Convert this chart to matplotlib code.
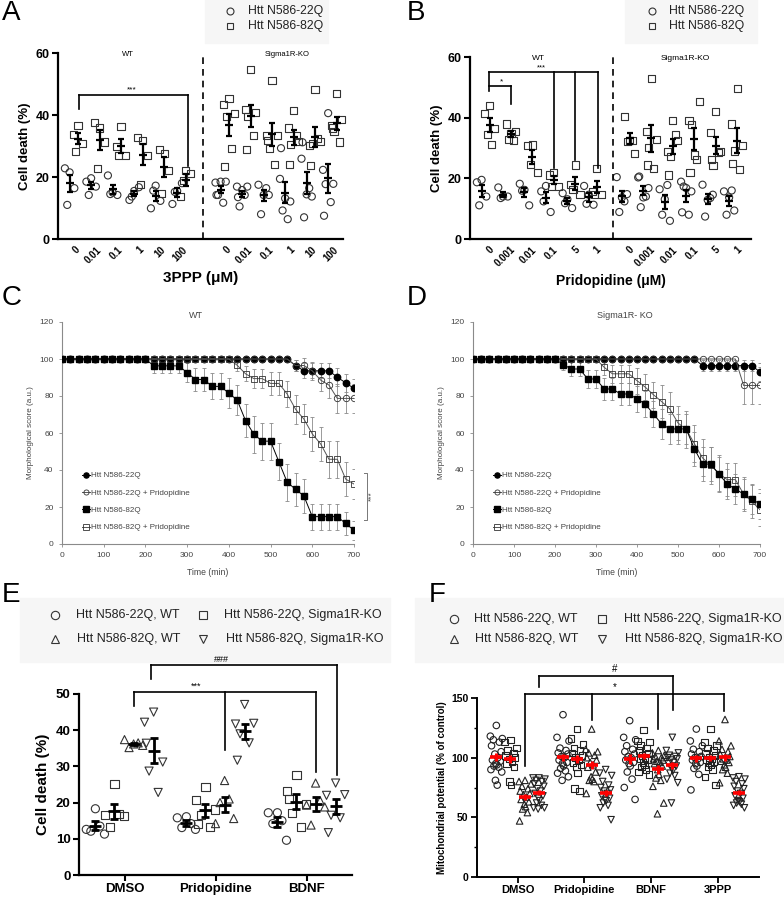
import numpy as np
import matplotlib
matplotlib.use('Agg')
import matplotlib.pyplot as plt
from matplotlib.lines import Line2D
from matplotlib.patches import Rectangle
from matplotlib.ticker import MultipleLocator

plt.rcParams['font.family'] = ['Liberation Sans', 'DejaVu Sans']

# ---------------- data ----------------
# Panel A: 3PPP dose, cell death (%)
A_doses = ['0', '0.01', '0.1', '1', '10', '100']
A_wt_22 = [[21.5, 22.8, 16.4, 11.0], [19.6, 18.5, 16.9, 14.2], [15.0, 20.5, 14.2, 14.5],
           [15.5, 12.6, 16.7, 13.7], [17.2, 9.9, 12.3, 15.6], [15.5, 11.3, 18.0, 15.2]]
A_wt_82 = [[36.6, 33.8, 30.9, 28.2], [35.8, 37.6, 31.3, 22.8], [36.3, 29.7, 26.8, 26.8],
           [31.8, 32.7, 26.9, 17.5], [27.7, 28.8, 22.1, 14.8], [22.1, 13.7, 21.2, 19.0]]
A_ko_22 = [[18.5, 18.2, 18.5, 14.2, 11.7, 14.2], [15.8, 16.9, 16.9, 10.5, 14.2, 13.5],
           [14.2, 17.5, 14.2, 8.0, 16.4], [13.1, 19.4, 12.1, 9.2, 6.4, 29.3],
           [14.4, 25.9, 13.7, 7.0, 16.4, 31.2], [40.6, 22.3, 17.8, 17.7, 11.9, 7.5]]
A_ko_82 = [[45.3, 43.5, 40.6, 39.5, 29.1, 23.4], [54.6, 41.7, 40.8, 39.5, 33.3, 28.8],
           [51.1, 33.3, 33.3, 29.1, 24.1, 31.8], [41.4, 35.8, 31.5, 30.4, 33.3, 24.1],
           [48.2, 30.2, 31.5, 30.9, 32.5, 23.8], [46.8, 36.6, 38.5, 34.7, 31.3, 35.8]]

# Panel B: pridopidine dose, cell death (%)
B_doses = ['0', '0.001', '0.01', '0.1', '5', '1']
B_wt_22 = [[19.5, 18.7, 14.0, 11.1], [14.0, 17.0, 14.0, 13.5], [16.2, 18.2, 11.1, 15.9],
           [17.5, 15.7, 8.9, 12.4], [13.1, 15.1, 10.2, 11.8], [14.6, 17.5, 11.3, 11.6]]
B_wt_82 = [[44.1, 41.4, 36.5, 34.3, 31.3], [34.8, 37.9, 35.4, 32.9, 32.6], [31.0, 30.8, 21.9, 24.6],
           [22.0, 21.1, 17.3, 17.3], [24.4, 17.9, 14.6, 16.2], [23.3, 15.7, 14.6, 14.8]]
B_ko_22 = [[13.7, 20.4, 14.8, 8.9, 12.4], [13.7, 20.3, 16.8, 10.5, 14.0, 20.6],
           [13.1, 16.4, 6.0, 8.0, 17.8], [16.8, 18.9, 15.7, 17.3, 8.0, 8.8],
           [12.9, 17.9, 14.6, 7.4, 13.5], [13.7, 15.7, 9.4, 8.0, 16.0]]
B_ko_82 = [[32.6, 40.3, 28.3, 32.1, 32.4], [52.9, 35.4, 32.9, 30.2, 23.3, 24.4],
           [39.2, 28.8, 32.6, 27.2, 34.3, 21.1], [27.7, 39.2, 45.2, 37.6, 26.1, 21.9],
           [41.9, 35.2, 28.8, 24.1, 28.5, 26.3], [49.6, 37.9, 30.7, 29.0, 22.8, 24.8]]

# Panels C/D: morphological score over time
time_min = np.arange(0, 701, 20)
C_22 = [100] * 28 + [96.4, 93.6, 93.6, 93.6, 93.6, 90.2, 87.1, 84.1]
C_22_err = [0] * 28 + [3, 4, 4, 4, 4, 5, 5, 5]
C_22p = [100] * 28 + [96.4, 96.5, 93.6, 88.6, 85.9, 78.7, 78.7, 78.7]
C_22p_err = [0] * 28 + [3, 4, 5, 6, 7, 8, 8, 8]
C_82 = [100] * 11 + [96.3, 96.3, 96.3, 96.3, 92.6, 88.9, 88.9, 85.2, 85.2, 81.5, 77.8, 66.7, 59.3,
                     55.6, 55.6, 44.4, 33.3, 29.6, 25.9, 14.8, 14.8, 14.8, 14.8, 11.1, 7.4]
C_82_err = [0] * 11 + [4, 4, 4, 4, 5, 6, 6, 7, 7, 8, 8, 9, 10, 10, 10, 10, 10, 9, 9, 7, 7, 7, 7, 6, 5]
C_82p = [100] * 21 + [96.6, 92.0, 89.4, 89.4, 86.8, 86.8, 81.0, 72.8, 67.5, 59.5, 54.1, 45.8, 45.8,
                      35.1, 32.4]
C_82p_err = [0] * 21 + [3, 4, 5, 5, 6, 6, 7, 8, 8, 9, 9, 10, 10, 9, 8]

D_22 = [100] * 28 + [96.4] * 7 + [93.0]
D_22_err = [0] * 28 + [3, 3, 3, 3, 3, 3, 3, 5]
D_22p = [100] * 33 + [85.7, 85.7, 85.7]
D_22p_err = [0] * 33 + [10, 10, 10]
D_82 = [100] * 11 + [97.0, 94.6, 94.6, 89.2, 89.2, 83.8, 83.8, 81.1, 81.1, 78.4, 75.7, 70.3, 64.9,
                     62.2, 62.2, 62.2, 51.4, 43.2, 43.2, 37.8, 32.4, 29.7, 27.0, 24.3, 21.6]
D_82_err = [0] * 11 + [3, 4, 4, 5, 5, 6, 6, 6, 6, 7, 7, 7, 8, 8, 8, 8, 9, 9, 9, 9, 8, 8, 8, 8, 8]
D_82p = [100] * 16 + [95.5, 92.0, 92.0, 92.0, 88.3, 84.8, 80.7, 77.0, 73.0, 65.4, 62.0, 54.2, 46.5,
                      42.5, 38.0, 34.8, 34.8, 27.0, 23.0, 18.5]
D_82p_err = [0] * 16 + [4, 5, 5, 5, 7, 7, 7, 9, 9, 9, 10, 10, 10, 10, 10, 9, 9, 9, 9, 9]

# Panel E: cell death (%) by treatment
E_treat = ['DMSO', 'Pridopidine', 'BDNF']
E_22_wt = [[18.3, 12.6, 11.3, 12.1, 13.5], [16.1, 15.8, 12.6, 13.1, 14.2], [17.2, 17.2, 9.6, 14.2, 15.0]]
E_22_ko = [[25.2, 16.5, 16.2, 13.3, 16.8], [24.3, 20.6, 18.1, 16.5, 13.3, 14.2],
           [27.5, 23.1, 19.7, 17.2, 13.3, 21.0]]
E_82_wt = [[36.2, 37.4, 35.8, 35.2, 36.5], [26.1, 14.2, 15.6, 20.0, 21.0], [25.4, 19.3, 18.8, 13.8, 20.5]]
E_82_ko = [[45.0, 42.2, 31.2, 28.7, 22.8, 36.4], [47.1, 41.7, 41.9, 39.0, 36.5, 31.7],
           [25.4, 22.0, 22.2, 16.5, 15.8, 11.7]]

# Panel F: mitochondrial potential (% of control)
F_treat = ['DMSO', 'Pridopidine', 'BDNF', '3PPP']
F_22_wt = [[127, 118, 116, 115, 113, 110, 105, 103, 100, 98, 97, 95, 94, 93, 92, 90, 88, 81, 77],
           [136, 117, 114, 108, 106, 104, 103, 101, 100, 98, 96, 95, 93, 91, 89, 87, 84, 81],
           [131, 117, 115, 110, 107, 105, 103, 101, 100, 98, 96, 95, 93, 88, 82, 75, 65],
           [124, 114, 110, 107, 105, 103, 101, 100, 99, 98, 96, 95, 93, 91, 86, 73]]
F_22_ko = [[115, 113, 108, 106, 104, 102, 100, 99, 97, 95, 92, 80, 77],
           [124, 116, 111, 108, 106, 104, 102, 100, 98, 96, 94, 92, 87, 74, 72],
           [123, 114, 113, 110, 108, 106, 104, 102, 100, 99, 98, 96, 94, 92, 90, 88, 86],
           [124, 113, 110, 108, 106, 104, 102, 100, 99, 98, 97, 96, 94, 92, 90, 84, 77]]
F_82_wt = [[81, 80, 78, 76, 74, 72, 70, 69, 67, 65, 63, 61, 59, 57, 54, 47],
           [124, 107, 105, 104, 102, 100, 98, 96, 94, 92, 88, 84, 82, 81, 80, 70],
           [106, 104, 102, 101, 100, 99, 98, 97, 96, 95, 93, 90, 86, 83, 81, 76, 62, 53],
           [132, 114, 110, 107, 105, 103, 101, 99, 98, 97, 96, 94, 92, 90, 87, 79]]
F_82_ko = [[83, 83, 82, 81, 80, 78, 76, 74, 72, 70, 68, 66, 64, 62, 60, 58, 58, 57],
           [90, 87, 85, 80, 77, 75, 73, 72, 70, 68, 66, 65, 64, 62, 60, 58, 48],
           [117, 106, 104, 102, 101, 100, 99, 98, 96, 95, 93, 91, 89, 87, 85, 82, 79, 62],
           [84, 83, 82, 80, 78, 76, 74, 72, 70, 68, 66, 64, 63, 62, 61, 60, 58]]

# ---------------- figure helpers ----------------
W, H = 784, 900
fig = plt.figure(figsize=(W / 100, H / 100), dpi=100)


def box(l, t, r, b):
    return fig.add_axes([l / W, 1 - b / H, (r - l) / W, (b - t) / H])


def fx(x):
    return x / W


def fy(y):
    return 1 - y / H


SPREAD = [0.0, -1.0, 1.0, -0.5, 0.5, -0.8, 0.8, -0.25, 0.25, -0.65, 0.65,
          -0.1, 0.1, -0.4, 0.4, -0.9, 0.9, -0.15, 0.15, 0.35]


def dots(ax, x, vals, marker, s, w, err_kw, ec='#333333', lw=0.8):
    v = np.asarray(vals, dtype=float)
    ax.scatter(x + np.array(SPREAD[:len(v)]) * w, v, marker=marker, s=s, facecolors='none',
               edgecolors=ec, linewidths=lw, zorder=2, clip_on=False)
    m = v.mean()
    e = v.std(ddof=1) / np.sqrt(len(v))
    ax.errorbar(x, m, yerr=e, **err_kw)


def bracket(ax, x0, x1, y, drops, lw=1.2):
    ax.plot([x0, x1], [y, y], color='k', lw=lw, clip_on=False)
    for xd, yd in drops:
        ax.plot([xd, xd], [y, yd], color='k', lw=lw, clip_on=False)


def legend_bg(x0, y0, x1, y1):
    fig.add_artist(Rectangle((fx(x0), fy(y1)), (x1 - x0) / W, (y1 - y0) / H,
                             transform=fig.transFigure, color='#f6f6f6', zorder=0))


def legend_item(x, y, marker, ms, text, tx, fs):
    fig.add_artist(Line2D([fx(x)], [fy(y)], marker=marker, ms=ms, mfc='none', mec='#333333',
                          mew=0.8, transform=fig.transFigure))
    fig.text(fx(tx), fy(y), text, fontsize=fs, va='center', ha='left', color='#222222')


def bold_ticks(ax, size):
    for lab in ax.get_xticklabels() + ax.get_yticklabels():
        lab.set_fontweight('bold')
        lab.set_fontsize(size)


# ---------------- panels A and B ----------------
AB_err = dict(fmt='_', color='k', ms=6, mew=1.6, capsize=2, elinewidth=1.6, capthick=1.6, zorder=3)


def dose_panel(ax, doses, wt22, wt82, ko22, ko82, ko_shift, sq_off, dash_x, xlim, tick_off,
               xlabel, xl_size, wt_x, ko_x, title_fs):
    for i in range(len(doses)):
        dots(ax, i, wt22[i], 'o', 26, 0.22, AB_err)
        dots(ax, i + sq_off, wt82[i], 's', 26, 0.22, AB_err)
        dots(ax, i + ko_shift, ko22[i], 'o', 26, 0.24, AB_err)
        dots(ax, i + ko_shift + sq_off, ko82[i], 's', 26, 0.24, AB_err)
    ax.axvline(dash_x, color='k', lw=1.2, ls=(0, (4, 3)))
    ax.set_xlim(*xlim)
    ax.set_ylim(0, 60)
    ax.set_yticks([0, 20, 40, 60])
    pos = [i + tick_off for i in range(len(doses))] + [i + ko_shift + tick_off for i in range(len(doses))]
    ax.set_xticks(pos)
    ax.set_xticklabels(doses + doses, rotation=45, ha='right', rotation_mode='anchor')
    ax.tick_params(axis='x', length=0, pad=4)
    ax.tick_params(axis='y', length=4, width=1.5, pad=2)
    for sp in ['top', 'right']:
        ax.spines[sp].set_visible(False)
    for sp in ['left', 'bottom']:
        ax.spines[sp].set_linewidth(1.6)
    bold_ticks(ax, 9)
    for lab in ax.get_xticklabels():
        lab.set_fontsize(7)
    ax.set_ylabel('Cell death (%)', fontsize=9.5, fontweight='bold', labelpad=3)
    ax.set_xlabel(xlabel, fontsize=xl_size, fontweight='bold', labelpad=4)
    ax.text(wt_x, 59.6, 'WT', fontsize=title_fs, ha='center', va='center')
    ax.text(ko_x, 59.6, 'Sigma1R-KO', fontsize=title_fs, ha='center', va='center')


axA = box(58, 53, 343, 239)
dose_panel(axA, A_doses, A_wt_22, A_wt_82, A_ko_22, A_ko_82, 7.02, 0.39, 6.2, (-0.54, 12.71), 0.22,
           '3PPP (\u03bcM)', 11, 2.7, 10.1, 5.5)
bracket(axA, 0.42, 5.5, 46.4, [(0.42, 42.0), (5.5, 23.4)])
axA.text(2.87, 46.9, '***', fontsize=6, ha='center', va='bottom')

axB = box(470, 57, 751, 239)
dose_panel(axB, B_doses, B_wt_22, B_wt_82, B_ko_22, B_ko_82, 6.54, 0.37, 6.12, (-0.54, 12.56), 0.33,
           'Pridopidine (\u03bcM)', 10, 2.65, 9.5, 6)
bracket(axB, 0.34, 5.41, 55.1, [(0.34, 48.9), (3.36, 23.3), (4.37, 26.1), (5.41, 23.3)])
bracket(axB, 0.34, 1.38, 50.4, [(1.38, 44.5)])
axB.text(2.79, 55.1, '***', fontsize=5.5, ha='center', va='bottom')
axB.text(0.91, 50.6, '*', fontsize=6, ha='center', va='bottom')

legend_bg(205, 0, 328, 43)
legend_item(230, 11, 'o', 5, 'Htt N586-22Q', 248, 8.8)
legend_item(230, 26, 's', 5, 'Htt N586-82Q', 248, 8.8)
legend_bg(625, 0, 757, 43)
legend_item(652, 11, 'o', 5, 'Htt N586-22Q', 669, 8.8)
legend_item(652, 26, 's', 5, 'Htt N586-82Q', 669, 8.8)


# ---------------- panels C and D ----------------
def time_panel(ax, title, title_x, series, leg_x, leg_y):
    handles = []
    for vals, errs, marker, filled, label in series:
        v = np.asarray(vals, dtype=float)
        e = np.asarray(errs, dtype=float)
        mk = e > 0
        ax.errorbar(time_min[mk], v[mk], yerr=e[mk], fmt='none', ecolor='#8a8a8a', elinewidth=0.6,
                    capsize=1.2, capthick=0.6, zorder=1)
        ms = 5.0 if marker == 's' else 4.6
        if filled:
            h, = ax.plot(time_min, v, marker=marker, ms=ms, color='k', lw=0.7, mfc='k', mec='k',
                         zorder=3 if marker == 's' else 2)
        else:
            h, = ax.plot(time_min, v, marker=marker, ms=ms, color='#555555', lw=0.7, mfc='none',
                         mec='#333333', mew=0.6, zorder=2.5)
        handles.append((h, label))
    ax.set_xlim(0, 700)
    ax.set_ylim(0, 120)
    ax.set_xticks(range(0, 701, 100))
    ax.set_yticks(range(0, 121, 20))
    for sp in ['top', 'right']:
        ax.spines[sp].set_visible(False)
    for sp in ['left', 'bottom']:
        ax.spines[sp].set_color('#8a8a8a')
        ax.spines[sp].set_linewidth(0.8)
    ax.tick_params(colors='#8a8a8a', labelcolor='#444444', labelsize=6, length=2.5, width=0.6)
    ax.set_ylabel('Morphological score (a.u.)', fontsize=5.8, color='#444444', labelpad=4)
    ax.set_xlabel('Time (min)', fontsize=6.2, color='#444444', labelpad=6)
    ax.text(title_x, 1.03, title, transform=ax.transAxes, fontsize=6.5, ha='center', va='center',
            color='#444444')
    ax.legend([h for h, _ in handles], [lab for _, lab in handles], loc='upper left',
              bbox_to_anchor=(leg_x, leg_y), frameon=False, fontsize=5.8, handlelength=1.0,
              handletextpad=0.1, labelspacing=1.2, borderpad=0, borderaxespad=0, labelcolor='#444444',
              markerscale=0.8)


axC = box(62, 322, 354, 544)
time_panel(axC, 'WT', 0.46, [
    (C_22, C_22_err, 'o', True, 'Htt N586-22Q'),
    (C_22p, C_22p_err, 'o', False, 'Htt N586-22Q + Pridopidine'),
    (C_82, C_82_err, 's', True, 'Htt N586-82Q'),
    (C_82p, C_82p_err, 's', False, 'Htt N586-82Q + Pridopidine'),
], 0.07, 0.325)
axC.plot([725, 730, 730, 725], [38.6, 38.6, 13.0, 13.0], color='#777777', lw=0.7, clip_on=False)
axC.text(742, 26, '***', fontsize=6, rotation=90, ha='center', va='center', color='#444444')

axD = box(473, 322, 760, 544)
time_panel(axD, 'Sigma1R- KO', 0.53, [
    (D_22, D_22_err, 'o', True, 'Htt N586-22Q'),
    (D_22p, D_22p_err, 'o', False, 'Htt N586-22Q + Pridopidine'),
    (D_82, D_82_err, 's', True, 'Htt N586-82Q'),
    (D_82p, D_82p_err, 's', False, 'Htt N586-82Q + Pridopidine'),
], 0.07, 0.325)

# ---------------- panel E ----------------
E_err = dict(fmt='_', color='k', ms=9, mew=2.0, capsize=3, elinewidth=2.0, capthick=2.0, zorder=3)
E_offsets = [-0.32, -0.11, 0.10, 0.32]
E_markers = ['o', 's', '^', 'v']
axE = box(79, 694, 352, 875)
for c in range(len(E_treat)):
    for g, grp in enumerate([E_22_wt, E_22_ko, E_82_wt, E_82_ko]):
        dots(axE, c + E_offsets[g], grp[c], E_markers[g], 34, 0.1, E_err)
axE.set_xlim(-0.5, 2.5)
axE.set_ylim(0, 50)
axE.set_yticks(range(0, 51, 10))
axE.set_xticks(range(len(E_treat)))
axE.set_xticklabels(E_treat)
for sp in ['top', 'right']:
    axE.spines[sp].set_visible(False)
for sp in ['left', 'bottom']:
    axE.spines[sp].set_linewidth(1.6)
axE.tick_params(length=4, width=1.5, pad=2)
bold_ticks(axE, 9.5)
axE.set_ylabel('Cell death (%)', fontsize=11, fontweight='bold', labelpad=4)
bracket(axE, 0.10, 2.10, 50.5, [(0.10, 46.8), (1.10, 34.4), (2.10, 28.4)])
bracket(axE, 0.29, 2.34, 57.9, [(0.29, 54.2), (2.34, 27.7)])
axE.text(0.79, 50.8, '***', fontsize=6.5, ha='center', va='bottom')
axE.text(1.06, 58.2, '###', fontsize=6.5, ha='center', va='bottom')

legend_bg(20, 598, 390, 662)
legend_item(55, 615, 'o', 6, 'Htt N586-22Q, WT', 76, 9)
legend_item(203, 615, 's', 6, 'Htt N586-22Q, Sigma1R-KO', 224, 9)
legend_item(55, 639, '^', 6, 'Htt N586-82Q, WT', 77, 9)
legend_item(203, 639, 'v', 6, 'Htt N586-82Q, Sigma1R-KO', 226, 9)

# ---------------- panel F ----------------
F_err = dict(fmt='_', color='red', ms=8, mew=2.6, capsize=0, elinewidth=2.2, zorder=4)
F_offsets = [-0.32, -0.11, 0.11, 0.32]
axF = box(477, 698, 759, 877)
for c in range(len(F_treat)):
    for g, grp in enumerate([F_22_wt, F_22_ko, F_82_wt, F_82_ko]):
        dots(axF, c + F_offsets[g], grp[c], E_markers[g], 22, 0.09, F_err, ec='#222222', lw=0.8)
axF.set_xlim(-0.61, 3.62)
axF.set_ylim(0, 150)
axF.set_yticks([0, 50, 100, 150])
axF.yaxis.set_minor_locator(MultipleLocator(25))
axF.set_xticks(range(len(F_treat)))
axF.set_xticklabels(F_treat)
for sp in ['top', 'right']:
    axF.spines[sp].set_visible(False)
for sp in ['left', 'bottom']:
    axF.spines[sp].set_linewidth(1.4)
axF.tick_params(length=4, width=1.3, pad=2)
axF.tick_params(which='minor', length=2.5, width=1.0)
bold_ticks(axF, 7.5)
for lab in axF.get_xticklabels():
    lab.set_fontsize(8)
axF.set_ylabel('Mitochondrial potential (% of control)', fontsize=7, fontweight='bold', labelpad=3)
bracket(axF, 0.11, 3.10, 153.4, [(0.11, 93.4), (1.11, 131.8), (2.10, 124.0), (3.10, 138.8)])
bracket(axF, 0.32, 2.33, 168.8, [(0.32, 159.3), (2.33, 140.2)])
axF.text(1.46, 155, '*', fontsize=7, ha='center', va='bottom')
axF.text(1.45, 170.5, '#', fontsize=7, ha='center', va='bottom')

legend_bg(415, 598, 784, 662)
legend_item(454, 619, 'o', 6, 'Htt N586-22Q, WT', 474, 9)
legend_item(602, 619, 's', 6, 'Htt N586-22Q, Sigma1R-KO', 624, 9)
legend_item(454, 639, '^', 6, 'Htt N586-82Q, WT', 475, 9)
legend_item(602, 639, 'v', 6, 'Htt N586-82Q, Sigma1R-KO', 625, 9)

# ---------------- panel letters ----------------
for letter, x, y in [('A', 2, 0), ('B', 407, 0), ('C', 2, 285), ('D', 407, 285), ('E', 2, 582), ('F', 429, 582)]:
    fig.text(fx(x), fy(y), letter, fontsize=20, ha='left', va='top')

fig.savefig('out.png', dpi=100)
